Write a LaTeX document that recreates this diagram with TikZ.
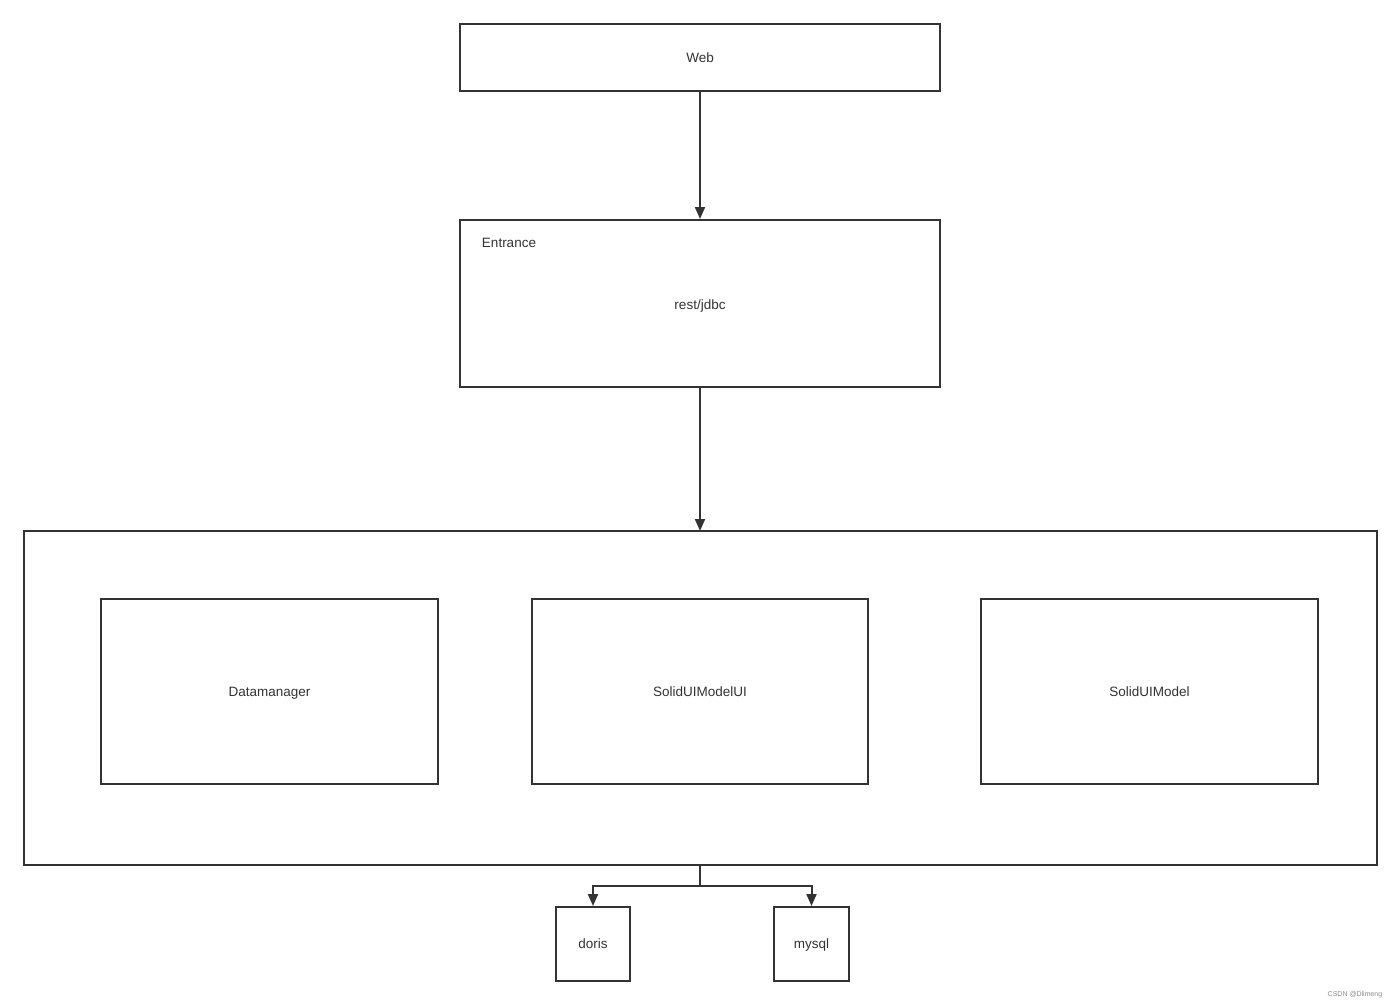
\documentclass[tikz,border=0pt]{standalone}
\usepackage{fontspec}
\setmainfont{Liberation Sans}
\usetikzlibrary{arrows.meta}
\definecolor{ln}{HTML}{333333}
\begin{document}
\begin{tikzpicture}[x=1pt,y=-1pt,
  box/.style={draw=ln,line width=2pt,inner sep=0pt},
  lbl/.style={font=\fontsize{13.5}{15}\selectfont,text=ln,text height=9.5pt,text depth=0pt,inner sep=0pt},
  conn/.style={draw=ln,line width=2pt,-{Triangle[length=12pt,width=10pt]}},
  seg/.style={draw=ln,line width=2pt}]
\useasboundingbox[fill=white] (0,0) rectangle (1400,1005);
% boxes
\node[box,minimum width=480pt,minimum height=67pt] (web) at (700,57.5) {};
\node[lbl] (webt) at (web.center) {Web};
\node[box,minimum width=480pt,minimum height=167pt] (ent) at (700,303.5) {};
\node[lbl] (entt) at (509,243) {Entrance};
\node[lbl] (rest) at (700,305) {rest/jdbc};
\node[box,minimum width=1353pt,minimum height=334pt] (big) at (700.5,698) {};
\node[box,minimum width=337pt,minimum height=185pt] (dm) at (269.5,691.5) {};
\node[lbl] (dmt) at (dm.center) {Datamanager};
\node[box,minimum width=336pt,minimum height=185pt] (ui) at (700,691.5) {};
\node[lbl] (uit) at (ui.center) {SolidUIModelUI};
\node[box,minimum width=337pt,minimum height=185pt] (md) at (1149.5,691.5) {};
\node[lbl] (mdt) at (md.center) {SolidUIModel};
\node[box,minimum width=74pt,minimum height=74pt] (doris) at (593,944) {};
\node[lbl] (dorist) at (doris.center) {doris};
\node[box,minimum width=75pt,minimum height=74pt] (mysql) at (811.5,944) {};
\node[lbl] (mysqlt) at (mysql.center) {mysql};
% connectors
\draw[conn] (web.south) -- (ent.north);
\draw[conn] (ent.south) -- (700,531);
\coordinate (split) at (700,886);
\draw[seg] (700,865) -- (split);
\draw[conn] (split) -| (doris.north);
\draw[conn] (split) -| (mysql.north);
% watermark
\node[font=\fontsize{7}{8}\selectfont,text=black!45] (wm) at (1355,995) {CSDN @Dlimeng};
\end{tikzpicture}
\end{document}
